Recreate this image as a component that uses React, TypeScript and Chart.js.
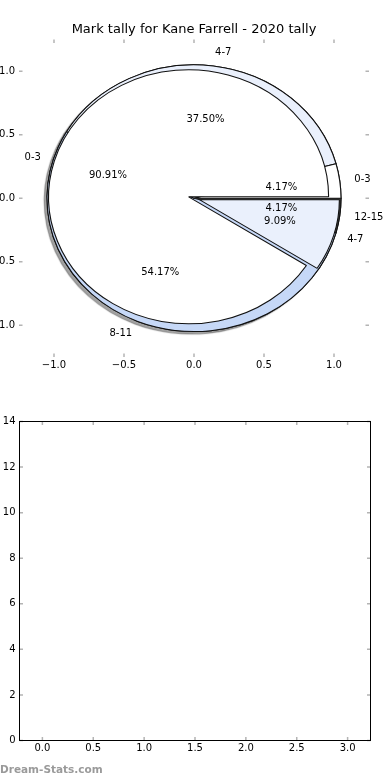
import React, { useEffect, useRef } from 'react';
import { Chart, registerables } from 'chart.js';

Chart.register(...registerables);
Chart.defaults.font.family = "'DejaVu Sans', sans-serif";
Chart.defaults.color = '#000';

// ---------- data ----------
const TITLE = 'Mark tally for Kane Farrell - 2020 tally';
const WATERMARK = 'Dream-Stats.com';

const outerLabels = ['0-3', '4-7', '8-11', '12-15'];
const outerValues = [1, 9, 13, 1];
const outerColors = ['#ffffff', '#eaf0fc', '#c6d8f7', '#474747'];
const outerExplode = [0, 0, 0, 0];
const outerRadiusUnits = 1.05;

const innerLabels = ['0-3', '4-7'];
const innerValues = [10, 1];
const innerColors = ['#ffffff', '#eaf0fc'];
const innerExplode = [0.04, 0.04];
const innerRadiusUnits = 1.0;

const pieAxisTicks = [-1, -0.5, 0, 0.5, 1];
const pieAxisMin = -1.25;
const pieAxisMax = 1.25;

const barXTicks = [0, 0.5, 1, 1.5, 2, 2.5, 3];
const barYTicks = [0, 2, 4, 6, 8, 10, 12, 14];
const barXMin = -0.225;
const barXMax = 3.225;
const barYMin = 0;
const barYMax = 14;
const barValues: number[] = [];

// ---------- layout ----------
const W = 390;
const PANEL_H = 390;
const PIE_AREA = { left: 19, right: 369, top: 39.5, bottom: 357 };
const unitX = (PIE_AREA.right - PIE_AREA.left) / (pieAxisMax - pieAxisMin);
const unitY = (PIE_AREA.bottom - PIE_AREA.top) / (pieAxisMax - pieAxisMin);
const SX = unitX / unitY;

const fmt1 = (v: number) => v.toFixed(1).replace('-', '\u2212');
const tickFont = { family: "'DejaVu Sans', sans-serif", size: 10 };

const inwardTicks = (frame: boolean) => ({
  id: 'inwardTicks',
  afterDraw(chart: any) {
    const { ctx, chartArea: a } = chart;
    const xs = chart.scales.x;
    const ys = chart.scales.y;
    const len = 3.5;
    ctx.save();
    ctx.strokeStyle = '#b4b4b4';
    ctx.lineWidth = 1.5;
    ctx.beginPath();
    xs.ticks.forEach((t: any) => {
      const x = xs.getPixelForValue(t.value);
      ctx.moveTo(x, a.top);
      ctx.lineTo(x, a.top + len);
      ctx.moveTo(x, a.bottom);
      ctx.lineTo(x, a.bottom - len);
    });
    ys.ticks.forEach((t: any) => {
      const y = ys.getPixelForValue(t.value);
      ctx.moveTo(a.left, y);
      ctx.lineTo(a.left + len, y);
      ctx.moveTo(a.right, y);
      ctx.lineTo(a.right - len, y);
    });
    ctx.stroke();
    if (frame) {
      ctx.strokeStyle = '#000';
      ctx.lineWidth = 1;
      ctx.strokeRect(a.left, a.top, a.right - a.left, a.bottom - a.top);
    }
    ctx.restore();
  },
});

function centerOf(chart: any) {
  const a = chart.chartArea;
  return { cx: (a.left + a.right) / 2, cy: (a.top + a.bottom) / 2 };
}

function drawPieLabels(ctx: CanvasRenderingContext2D, chart: any) {
  const meta = chart.getDatasetMeta(0);
  const values: number[] = chart.data.datasets[0].data;
  const labels: string[] = chart.data.labels;
  const total = values.reduce((s, v) => s + v, 0);
  const { cx } = centerOf(chart);
  const toX = (x: number) => cx + (x - cx) * SX;
  ctx.save();
  ctx.font = "10px 'DejaVu Sans', sans-serif";
  ctx.fillStyle = '#000';
  ctx.textBaseline = 'middle';
  meta.data.forEach((arc: any, j: number) => {
    const mid = (arc.startAngle + arc.endAngle) / 2;
    const r = arc.outerRadius;
    const px = toX(arc.x + Math.cos(mid) * 0.6 * r);
    const py = arc.y + Math.sin(mid) * 0.6 * r;
    ctx.textAlign = 'center';
    ctx.fillText(((values[j] / total) * 100).toFixed(2) + '%', px, py);
    const lx = toX(arc.x + Math.cos(mid) * 1.1 * r);
    const ly = arc.y + Math.sin(mid) * 1.1 * r;
    ctx.textAlign = lx > cx ? 'left' : 'right';
    ctx.fillText(labels[j], lx, ly);
  });
  ctx.restore();
}

function makePie(
  canvas: HTMLCanvasElement,
  labels: string[],
  values: number[],
  colors: string[],
  explode: number[],
  radiusUnits: number,
  shadow: boolean,
  extraLabelCharts: () => any[]
) {
  // matplotlib draws counter-clockwise from 3 o'clock: reverse for Chart.js clockwise
  const idx = values.map((_, i) => values.length - 1 - i);
  const explodeRev = idx.map((i) => explode[i]);
  const piePlugin = {
    id: 'mplPie',
    afterUpdate(chart: any) {
      const meta = chart.getDatasetMeta(0);
      meta.data.forEach((arc: any, j: number) => {
        const e = explodeRev[j] * unitY;
        const mid = (arc.startAngle + arc.endAngle) / 2;
        arc.x += Math.cos(mid) * e;
        arc.y += Math.sin(mid) * e;
      });
    },
    beforeDatasetsDraw(chart: any) {
      const ctx = chart.ctx;
      const { cx, cy } = centerOf(chart);
      ctx.save();
      ctx.translate(cx, cy);
      ctx.scale(SX, 1);
      ctx.translate(-cx, -cy);
      if (shadow) {
        ctx.shadowColor = 'rgba(50,50,50,0.45)';
        ctx.shadowOffsetX = -2.8;
        ctx.shadowOffsetY = 2.5;
        ctx.shadowBlur = 1;
      }
    },
    afterDatasetsDraw(chart: any) {
      const ctx = chart.ctx;
      if (shadow) {
        ctx.shadowColor = 'rgba(0,0,0,0)';
        ctx.shadowOffsetX = 0;
        ctx.shadowOffsetY = 0;
        ctx.shadowBlur = 0;
        chart.getDatasetMeta(0).controller.draw();
      }
      ctx.restore();
    },
    afterDraw(chart: any) {
      extraLabelCharts().forEach((c) => drawPieLabels(chart.ctx, c));
    },
  };
  return new Chart(canvas, {
    type: 'pie',
    data: {
      labels: idx.map((i) => labels[i]),
      datasets: [
        {
          data: idx.map((i) => values[i]),
          backgroundColor: idx.map((i) => colors[i]),
          borderColor: '#111',
          borderWidth: 1,
        },
      ],
    },
    options: {
      animation: false,
      responsive: false,
      events: [],
      rotation: 90,
      radius: radiusUnits * unitY,
      layout: {
        padding: {
          left: PIE_AREA.left,
          right: W - PIE_AREA.right,
          top: PIE_AREA.top,
          bottom: PANEL_H - PIE_AREA.bottom,
        },
      },
      plugins: {
        legend: { display: false },
        tooltip: { enabled: false },
        title: { display: false },
      },
    } as any,
    plugins: [piePlugin],
  });
}

export default function App() {
  const axesRef = useRef<HTMLCanvasElement>(null);
  const outerRef = useRef<HTMLCanvasElement>(null);
  const innerRef = useRef<HTMLCanvasElement>(null);
  const barRef = useRef<HTMLCanvasElement>(null);

  useEffect(() => {
    const charts: any[] = [];

    const axes = new Chart(axesRef.current!, {
      type: 'scatter',
      data: { datasets: [{ data: [] }] },
      options: {
        animation: false,
        responsive: false,
        events: [],
        layout: { padding: { left: 0, right: W - PIE_AREA.right, top: 0, bottom: 0 } },
        plugins: {
          legend: { display: false },
          tooltip: { enabled: false },
          title: {
            display: true,
            text: TITLE,
            fullSize: false,
            color: '#000',
            font: { family: "'DejaVu Sans', sans-serif", size: 13, weight: 'normal' },
            padding: { top: 22.2, bottom: 1.7 },
          },
        },
        scales: {
          x: {
            type: 'linear',
            min: pieAxisMin,
            max: pieAxisMax,
            afterBuildTicks: (s: any) => {
              s.ticks = pieAxisTicks.map((v) => ({ value: v }));
            },
            afterFit: (s: any) => {
              s.height = PANEL_H - PIE_AREA.bottom;
            },
            grid: { display: false, drawTicks: false },
            border: { display: false },
            ticks: { font: tickFont, color: '#000', padding: 2, maxRotation: 0, autoSkip: false, callback: (v: any) => fmt1(Number(v)) },
          },
          y: {
            type: 'linear',
            min: pieAxisMin,
            max: pieAxisMax,
            afterBuildTicks: (s: any) => {
              s.ticks = pieAxisTicks.map((v) => ({ value: v }));
            },
            afterFit: (s: any) => {
              s.width = PIE_AREA.left;
            },
            grid: { display: false, drawTicks: false },
            border: { display: false },
            ticks: { font: tickFont, color: '#000', padding: 4, autoSkip: false, callback: (v: any) => fmt1(Number(v)) },
          },
        },
      } as any,
      plugins: [inwardTicks(false)],
    });
    charts.push(axes);

    const outer = makePie(outerRef.current!, outerLabels, outerValues, outerColors, outerExplode, outerRadiusUnits, true, () => []);
    charts.push(outer);
    let inner: any = null;
    inner = makePie(innerRef.current!, innerLabels, innerValues, innerColors, innerExplode, innerRadiusUnits, false, () => (inner ? [outer, inner] : [outer]));
    charts.push(inner);
    inner.draw();

    const watermark = {
      id: 'watermark',
      afterDraw(chart: any) {
        const ctx = chart.ctx;
        ctx.save();
        ctx.font = "bold 10.5px 'DejaVu Sans', sans-serif";
        ctx.fillStyle = '#9a9a9a';
        ctx.textAlign = 'left';
        ctx.textBaseline = 'middle';
        ctx.fillText(WATERMARK, 0, 380);
        ctx.restore();
      },
    };

    const bar = new Chart(barRef.current!, {
      type: 'bar',
      data: {
        datasets: [{ data: barValues, backgroundColor: '#c6d8f7', borderColor: '#000', borderWidth: 1 }],
      },
      options: {
        animation: false,
        responsive: false,
        events: [],
        layout: { padding: { left: 0, right: 19.5, top: 31.5, bottom: 0 } },
        plugins: { legend: { display: false }, tooltip: { enabled: false } },
        scales: {
          x: {
            type: 'linear',
            offset: false,
            min: barXMin,
            max: barXMax,
            afterBuildTicks: (s: any) => {
              s.ticks = barXTicks.map((v) => ({ value: v }));
            },
            afterFit: (s: any) => {
              s.height = 39.5;
            },
            grid: { display: false, drawTicks: false, offset: false },
            border: { display: false },
            ticks: { font: tickFont, color: '#000', padding: 2, maxRotation: 0, autoSkip: false, callback: (v: any) => fmt1(Number(v)) },
          },
          y: {
            type: 'linear',
            min: barYMin,
            max: barYMax,
            afterBuildTicks: (s: any) => {
              s.ticks = barYTicks.map((v) => ({ value: v }));
            },
            afterFit: (s: any) => {
              s.width = 19.5;
            },
            grid: { display: false, drawTicks: false },
            border: { display: false },
            ticks: { font: tickFont, color: '#000', padding: 4, autoSkip: false, callback: (v: any) => String(Math.round(Number(v))) },
          },
        },
      } as any,
      plugins: [inwardTicks(true), watermark],
    });
    charts.push(bar);

    return () => charts.forEach((c) => c.destroy());
  }, []);

  const abs: React.CSSProperties = { position: 'absolute', left: 0, display: 'block' };
  return (
    <div style={{ position: 'absolute', left: 0, top: 0, width: W, height: 780, background: '#fff', overflow: 'hidden' }}>
      <canvas ref={axesRef} width={W} height={PANEL_H} style={{ ...abs, top: 0 }} />
      <canvas ref={outerRef} width={W} height={PANEL_H} style={{ ...abs, top: 0 }} />
      <canvas ref={innerRef} width={W} height={PANEL_H} style={{ ...abs, top: 0 }} />
      <canvas ref={barRef} width={W} height={PANEL_H} style={{ ...abs, top: PANEL_H }} />
    </div>
  );
}
